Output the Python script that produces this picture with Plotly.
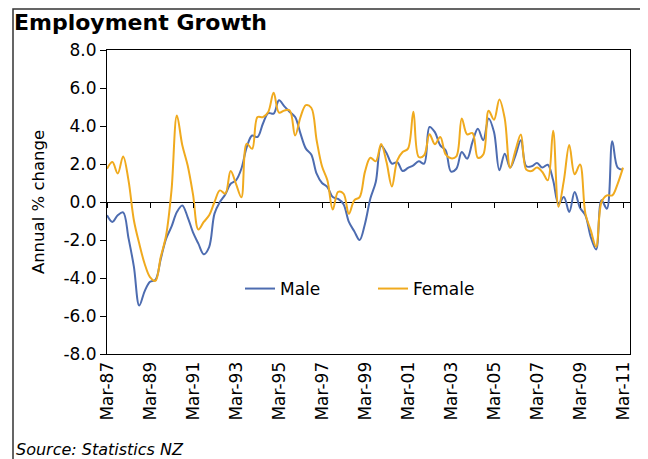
import plotly.graph_objects as go

# quarterly, Mar-87 .. Mar-11
quarters = []
for yr in range(1987, 2012):
    for mon in ["Mar", "Jun", "Sep", "Dec"]:
        quarters.append("%s-%02d" % (mon, yr % 100))
quarters = quarters[:97]

male = [-0.70, -1.05, -0.70, -0.55, -1.90, -3.40, -5.45, -4.70,
        -4.20, -4.10, -3.00, -1.93, -1.30, -0.53, -0.18, -0.79,
        -1.60, -2.19, -2.75, -2.37, -0.61, 0.00, 0.40, 0.96,
        1.14, 1.75, 2.89, 3.50, 3.42, 4.12, 4.68, 4.65,
        5.35, 5.03, 4.74, 4.47, 3.60, 2.81, 2.50, 1.49,
        1.00, 0.79, 0.26, 0.16, -0.12, -1.05, -1.54, -2.00,
        -1.14, 0.18, 1.05, 2.95, 2.58, 2.02, 2.09, 1.63,
        1.79, 1.93, 2.14, 2.02, 3.95, 3.68, 2.98, 2.72,
        1.60, 1.75, 2.63, 2.28, 3.16, 3.85, 3.25, 4.40,
        3.68, 1.67, 2.54, 1.81, 2.46, 3.25, 1.88, 1.88,
        2.05, 1.81, 1.96, 1.14, -0.09, 0.26, -0.53, 0.53,
        -0.30, -0.70, -1.84, -2.50, 0.09, -0.35, 3.20, 1.81,
        1.70]

female = [1.75, 2.10, 1.50, 2.40, 1.14, -0.96, -2.19, -3.25,
          -3.95, -4.15, -2.90, -1.75, 0.61, 4.55, 3.00, 1.93,
          0.40, -1.45, -1.05, -0.70, 0.00, 0.61, 0.44, 1.63,
          0.96, 0.25, 3.07, 2.80, 4.47, 4.47, 4.74, 5.75,
          4.70, 4.82, 4.82, 3.50, 4.47, 5.10, 4.96, 3.25,
          1.88, 1.14, -0.40, 0.53, 0.44, -0.62, 0.09, 0.26,
          1.60, 2.33, 2.14, 3.05, 2.10, 0.82, 2.19, 2.63,
          2.81, 4.75, 2.37, 2.46, 3.56, 3.04, 3.42, 2.51,
          2.30, 2.40, 4.40, 3.56, 3.63, 2.33, 2.50, 4.80,
          4.33, 5.40, 4.39, 1.80, 2.72, 3.55, 1.70, 1.63,
          1.81, 1.58, 1.14, 3.75, -0.25, 1.14, 3.00, 1.46,
          1.98, -0.61, -1.49, -2.35, 0.00, 0.35, 0.35, 0.96,
          1.81]

tick_labels = quarters[::8]
y_ticks = [-8, -6, -4, -2, 0, 2, 4, 6, 8]
y_text = ["%.1f" % v for v in y_ticks]

FONT = "Verdana, DejaVu Sans"
XR = [0, 97.3]
W, H = 640, 451          # page body keeps an 8px margin
L, R, T, B = 99, 622, 42, 346
PW, PH = R - L, B - T

fig = go.Figure()
fig.add_trace(go.Scatter(x=quarters, y=male, name="Male", mode="lines",
                         line=dict(color="#4d6cb0", width=2, shape="spline")))
fig.add_trace(go.Scatter(x=quarters, y=female, name="Female", mode="lines",
                         xaxis="x2",
                         line=dict(color="#f0aa1e", width=2, shape="spline")))

fig.update_layout(
    width=W, height=H,
    margin=dict(l=L, r=W-R, t=T, b=H-B),
    plot_bgcolor="white", paper_bgcolor="white",
    font=dict(family=FONT, size=17, color="black"),
    title=dict(text="<b>Employment Growth</b>", font=dict(size=22),
               xref="container", x=6/W, xanchor="left",
               yref="container", y=1-14/H, yanchor="middle"),
    xaxis=dict(type="category", range=XR, tickvals=tick_labels,
               ticktext=tick_labels, tickangle=-90, ticks="",
               showline=True, linecolor="black", linewidth=1, mirror=True,
               showgrid=False, zeroline=False),
    xaxis2=dict(type="category", range=XR, overlaying="x", anchor="free",
                position=0.5, tickvals=tick_labels, ticks="outside",
                ticklen=5, tickcolor="black", showticklabels=False,
                showline=False, showgrid=False, zeroline=False),
    yaxis=dict(range=[-8, 8], tickvals=y_ticks, ticktext=y_text,
               ticks="outside", ticklen=6, tickcolor="black",
               showline=True, linecolor="black", linewidth=1, mirror=True,
               showgrid=False, zeroline=True, zerolinecolor="black",
               zerolinewidth=1.3,
               title=dict(text="Annual % change", font=dict(size=16.5),
                          standoff=14)),
    legend=dict(orientation="h", x=(232-L)/PW, xanchor="left",
                y=(B-281)/PH, yanchor="middle", bgcolor="rgba(0,0,0,0)",
                entrywidth=88, font=dict(size=17)),
    shapes=[dict(type="rect", xref="paper", yref="paper",
                 x0=(5-L)/PW, x1=1.3, y0=-0.6, y1=(B-1)/PH,
                 line=dict(color="#333333", width=1.5), layer="below")],
    annotations=[dict(text="<i>Source: Statistics NZ</i>", xref="paper",
                      yref="paper", x=(6-L)/PW, y=(B-441)/PH,
                      xanchor="left", yanchor="middle", showarrow=False,
                      font=dict(size=16))],
)

fig.write_html("out.html")
